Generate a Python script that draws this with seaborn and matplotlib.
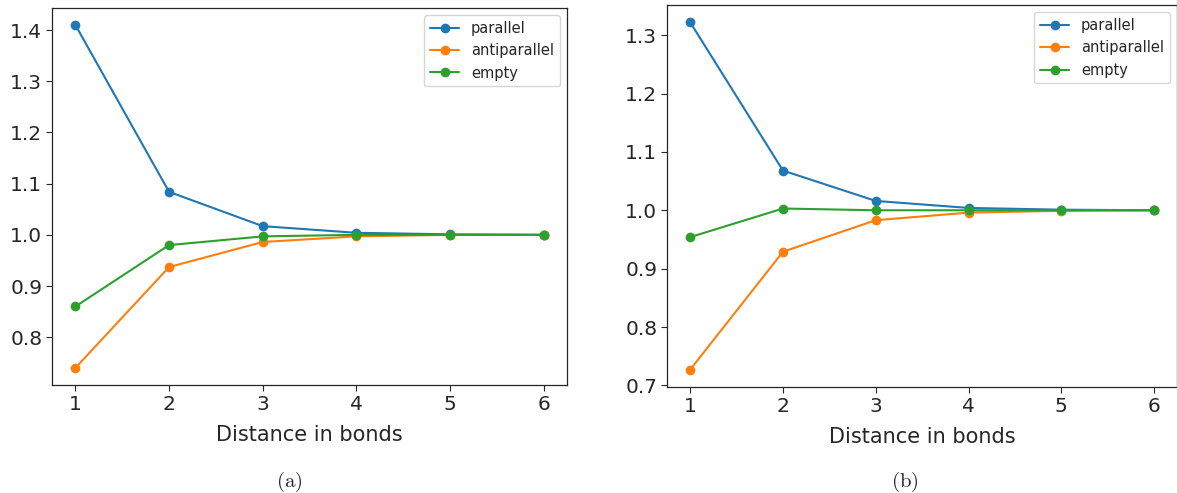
import matplotlib

matplotlib.use("Agg")
import matplotlib.pyplot as plt
import pandas as pd
import seaborn as sns

sns.set_style("white")
plt.rcParams["font.family"] = ["DejaVu Sans"]
plt.rcParams["mathtext.fontset"] = "cm"

distance = [1, 2, 3, 4, 5, 6]

# panel (a)
a_parallel = [1.410, 1.084, 1.017, 1.004, 1.001, 1.000]
a_antiparallel = [0.740, 0.937, 0.986, 0.997, 1.000, 1.000]
a_empty = [0.860, 0.980, 0.997, 1.000, 1.000, 1.000]

# panel (b)
b_parallel = [1.322, 1.068, 1.016, 1.004, 1.001, 1.000]
b_antiparallel = [0.727, 0.929, 0.983, 0.996, 0.999, 1.000]
b_empty = [0.954, 1.003, 1.000, 1.000, 1.000, 1.000]

series_names = ["parallel", "antiparallel", "empty"]
colors = ["#1f77b4", "#ff7f0e", "#2ca02c"]


def draw_panel(ax, values):
    for name, vals, color in zip(series_names, values, colors):
        df = pd.DataFrame({"distance": distance, "value": vals})
        sns.lineplot(data=df, x="distance", y="value", ax=ax, color=color,
                     marker="o", markersize=7, markeredgewidth=0, linewidth=1.5, label=name)
    ax.set_xlabel("Distance in bonds", fontsize=15, color="#262626", labelpad=8)
    ax.set_ylabel("")
    ax.set_xticks(distance)
    ax.tick_params(axis="both", labelsize=14.5, colors="#262626", length=4, width=0.8, direction="out",
                   bottom=True, left=True, pad=3)
    for spine in ax.spines.values():
        spine.set_color("#262626")
        spine.set_linewidth(0.9)
    ax.legend(loc="upper right", fontsize=10.5, frameon=True)


fig = plt.figure(figsize=(11.77, 4.93), dpi=100)
ax_a = fig.add_axes([0.0442, 0.219, 0.4375, 0.765])
ax_b = fig.add_axes([0.5667, 0.215, 0.4335, 0.775])

draw_panel(ax_a, [a_parallel, a_antiparallel, a_empty])
draw_panel(ax_b, [b_parallel, b_antiparallel, b_empty])
ax_a.set_xlim(0.75, 6.25)
ax_b.set_xlim(0.75, 6.25)

fig.text(0.246, 0.022, r"$\mathrm{(a)}$", fontsize=15, ha="center", va="center")
fig.text(0.769, 0.022, r"$\mathrm{(b)}$", fontsize=15, ha="center", va="center")

fig.savefig("out.png", dpi=100)
